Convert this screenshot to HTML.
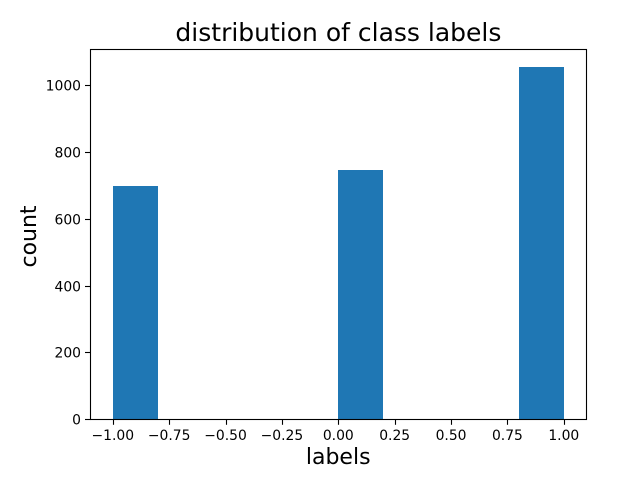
<!DOCTYPE html>
<html lang="en">
<head>
<meta charset="utf-8">
<title>distribution of class labels</title>
<style>
html,body{margin:0;padding:0;background:#fff;width:639px;height:491px;overflow:hidden}
svg{display:block}
text{font-family:"DejaVu Sans",sans-serif;fill:#000}
</style>
</head>
<body>
<svg id="chart" width="639" height="491" viewBox="0 0 639 491" xmlns="http://www.w3.org/2000/svg">
<rect x="0" y="0" width="639" height="491" fill="#fff"/>
<g id="bars"></g>
<g id="xticks"></g>
<g id="yticks"></g>
<rect x="90.5" y="49.5" width="496" height="370" fill="none" stroke="#000" stroke-width="1.1"/>
<text x="338.4" y="41" text-anchor="middle" font-size="25px">distribution of class labels</text>
<text x="338.2" y="464" text-anchor="middle" font-size="22px">labels</text>
<text transform="translate(36,236.5) rotate(-90)" text-anchor="middle" font-size="22px">count</text>
</svg>
<script>
const binStarts = [-1, 0, 0.8];
const binWidths = [0.2, 0.2, 0.2];
const counts = [700, 748, 1056];
const xTickValues = [-1, -0.75, -0.5, -0.25, 0, 0.25, 0.5, 0.75, 1];
const xTickLabels = ['\u22121.00', '\u22120.75', '\u22120.50', '\u22120.25', '0.00', '0.25', '0.50', '0.75', '1.00'];
const yTickValues = [0, 200, 400, 600, 800, 1000];
const yTickLabels = ['0', '200', '400', '600', '800', '1000'];

const NS = 'http://www.w3.org/2000/svg';
const xAt = function (v) { return 338.3 + v * 225.5; };
const yAt = function (v) { return 419.5 - v * 0.3337; };
const make = function (tag, parent) {
  const el = document.createElementNS(NS, tag);
  parent.appendChild(el);
  return el;
};

const barsGroup = document.getElementById('bars');
binStarts.forEach(function (start, i) {
  const left = Math.round(xAt(start));
  const right = Math.round(xAt(start + binWidths[i]));
  const top = Math.round(yAt(counts[i]));
  const bottom = Math.round(yAt(0));
  const bar = make('rect', barsGroup);
  
  
  bar.setAttribute('x', left);
  bar.setAttribute('y', top);
  bar.setAttribute('width', right - left);
  bar.setAttribute('height', bottom - top);
  bar.setAttribute('fill', '#1f77b4');
});

const xGroup = document.getElementById('xticks');
xTickValues.forEach(function (v, i) {
  const x = xAt(v);
  const snapped = Math.round(x) + 0.5;
  const tick = make('line', xGroup);
  
  
  tick.setAttribute('x1', snapped);
  tick.setAttribute('x2', snapped);
  tick.setAttribute('y1', 419.5);
  tick.setAttribute('y2', 424.8);
  tick.setAttribute('stroke', '#000');
  tick.setAttribute('stroke-width', 1.1);
  const label = make('text', xGroup);
  
  
  label.setAttribute('x', x);
  label.setAttribute('y', 440);
  label.setAttribute('text-anchor', 'middle');
  label.setAttribute('font-size', '13.9px');
  label.textContent = xTickLabels[i];
});

const yGroup = document.getElementById('yticks');
yTickValues.forEach(function (v, i) {
  const y = yAt(v);
  const snapped = Math.floor(y) + 0.5;
  const tick = make('line', yGroup);
  
  
  tick.setAttribute('x1', 85);
  tick.setAttribute('x2', 90.5);
  tick.setAttribute('y1', snapped);
  tick.setAttribute('y2', snapped);
  tick.setAttribute('stroke', '#000');
  tick.setAttribute('stroke-width', 1.1);
  const label = make('text', yGroup);
  
  
  label.setAttribute('x', 81);
  label.setAttribute('y', snapped + 5);
  label.setAttribute('text-anchor', 'end');
  label.setAttribute('font-size', '13.9px');
  label.textContent = yTickLabels[i];
});
</script>
</body>
</html>
